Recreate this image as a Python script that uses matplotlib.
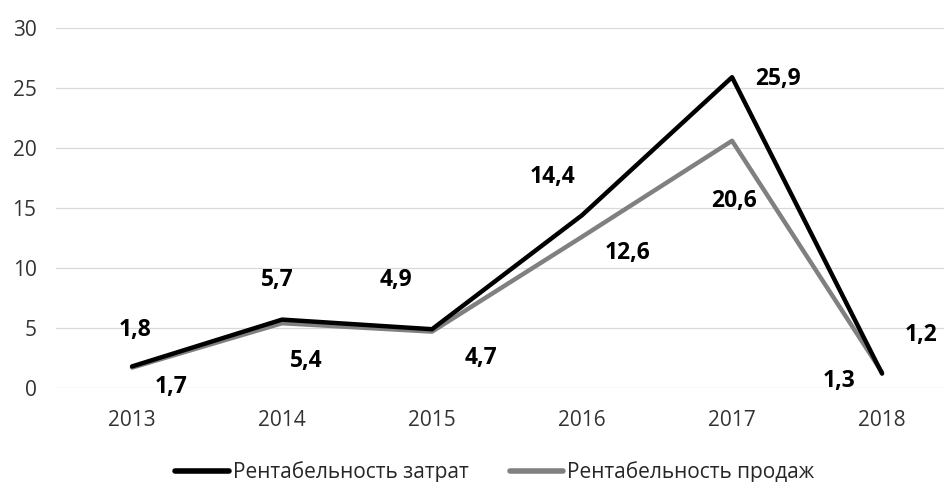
import numpy as np
import matplotlib.pyplot as plt

years = ['2013', '2014', '2015', '2016', '2017', '2018']
cost_profit = [1.8, 5.7, 4.9, 14.4, 25.9, 1.2]   # Рентабельность затрат
sales_profit = [1.7, 5.4, 4.7, 12.6, 20.6, 1.3]  # Рентабельность продаж
series_names = ['Рентабельность затрат', 'Рентабельность продаж']

# label offsets in pixels (dx, dy), picked by eye from the reference
cost_offsets = [(3, 36), (-5, 40), (-36, 49), (-29, 38), (46, -2), (39, 39)]
sales_offsets = [(39, -19), (24, -38), (49, -26), (46, -16), (2, -60), (-43, -9)]

plt.rcParams['font.family'] = ['Open Sans', 'DejaVu Sans']

fig = plt.figure(figsize=(9.44, 4.82), dpi=100)
ax = fig.add_axes([56 / 944, 1 - 388 / 482, 1 - 56 / 944, 360 / 482])

x = np.arange(len(years))
ax.plot(x, sales_profit, color='#808080', lw=3.2, solid_joinstyle='round',
        solid_capstyle='round', label=series_names[1], zorder=3)
ax.plot(x, cost_profit, color='black', lw=3.2, solid_joinstyle='round',
        solid_capstyle='round', label=series_names[0], zorder=4)

for xi, v, off in zip(x, cost_profit, cost_offsets):
    ax.annotate(f'{v:.1f}'.replace('.', ','), (xi, v), xytext=off,
                textcoords='offset pixels', ha='center', va='center',
                fontsize=16.5, fontweight='bold', color='black')
for xi, v, off in zip(x, sales_profit, sales_offsets):
    ax.annotate(f'{v:.1f}'.replace('.', ','), (xi, v), xytext=off,
                textcoords='offset pixels', ha='center', va='center',
                fontsize=16.5, fontweight='bold', color='black')

ax.set_xlim(-0.507, 5.413)
ax.set_ylim(0, 30)
ax.set_yticks(range(0, 31, 5))
ax.set_xticks(x)
ax.set_xticklabels(years)
ax.yaxis.grid(True, color='#d9d9d9', lw=0.9)
ax.set_axisbelow(True)
for s in ax.spines.values():
    s.set_visible(False)
ax.tick_params(length=0, labelsize=15, colors='#333333')
ax.tick_params(axis='y', pad=14)
ax.tick_params(axis='x', pad=16)

handles, labels = ax.get_legend_handles_labels()
leg = fig.legend(handles[::-1], labels[::-1], loc='center', ncol=2,
                 bbox_to_anchor=(495 / 944, 1 - 472 / 482), frameon=False,
                 fontsize=15, handlelength=2.55, handletextpad=0.2,
                 columnspacing=2.0, borderpad=0, labelcolor='#262626')
for line in leg.get_lines():
    line.set_linewidth(4)
    line.set_solid_capstyle('round')

fig.savefig('out.png', dpi=100)
